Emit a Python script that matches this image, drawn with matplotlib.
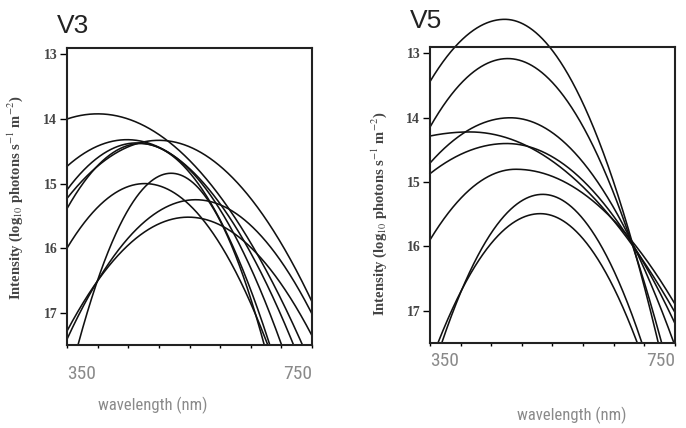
import numpy as np
import matplotlib
matplotlib.use("Agg")
import matplotlib.pyplot as plt

# fitted irradiance spectra, one parabola per station:
# peak wavelength (nm), peak level (log10 photons s-1 m-2),
# drop per (100 nm)^2 on the short and long wavelength side
v3_peak_nm = [400, 448, 500, 464, 470, 477, 520, 560, 548]
v3_peak_level = [13.92, 14.32, 14.33, 14.37, 14.38, 15.00, 14.84, 15.25, 15.52]
v3_curv_short = [0.32, 0.43, 0.40, 0.56, 0.70, 0.62, 1.15, 0.49, 0.45]
v3_curv_long = [0.32, 0.43, 0.40, 0.56, 0.70, 0.62, 1.15, 0.49, 0.45]

v5_peak_nm = [472, 477, 481, 415, 475, 490, 534, 530]
v5_peak_level = [12.47, 13.08, 14.00, 14.22, 14.40, 14.80, 15.19, 15.49]
v5_curv_short = [0.65, 0.66, 0.41, 0.15, 0.30, 0.56, 0.85, 0.72]
v5_curv_long = [0.80, 0.70, 0.49, 0.25, 0.37, 0.31, 0.88, 0.80]

wl_min, wl_max = 350, 750
wl_ticks = [350, 400, 450, 500, 550, 600, 650, 700, 750]
level_ticks = [13, 14, 15, 16, 17]
level_top, level_bottom = 12.9, 17.5

plt.rcParams["mathtext.fontset"] = "stix"

fig = plt.figure(figsize=(6.86, 4.28), dpi=100)

panels = [
    dict(name="V3", peaks=v3_peak_nm, levels=v3_peak_level,
         k_short=v3_curv_short, k_long=v3_curv_long,
         rect=[67 / 686, 1 - 345 / 428, 245 / 686, 297 / 428],
         title_xy=(57 / 686, 1 - 33 / 428), ylab_xy=(15 / 686, 1 - 198 / 428),
         xlab_xy=(153 / 686, 1 - 405 / 428), xpad=12),
    dict(name="V5", peaks=v5_peak_nm, levels=v5_peak_level,
         k_short=v5_curv_short, k_long=v5_curv_long,
         rect=[430 / 686, 1 - 343 / 428, 245 / 686, 296 / 428],
         title_xy=(410 / 686, 1 - 28 / 428), ylab_xy=(379 / 686, 1 - 214 / 428),
         xlab_xy=(572 / 686, 1 - 415 / 428), xpad=4),
]

gray = "#8a8a8a"
narrow = dict(family=["Roboto Condensed", "Roboto", "DejaVu Sans"],
              fontstretch="condensed", color=gray)

for p in panels:
    ax = fig.add_axes(p["rect"])
    wl = np.linspace(wl_min, wl_max, 2001)
    for pk, lv, ks, kl in zip(p["peaks"], p["levels"], p["k_short"], p["k_long"]):
        k = np.where(wl < pk, ks, kl)
        y = lv + k * ((wl - pk) / 100.0) ** 2
        y[y > level_bottom] = np.nan
        ax.plot(wl, y, color="#111111", lw=1.15, clip_on=False)

    ax.set_xlim(wl_min, wl_max)
    ax.set_ylim(level_bottom, level_top)
    for s in ax.spines.values():
        s.set_linewidth(1.5)
        s.set_color("#222222")

    ax.set_yticks(level_ticks)
    ax.set_yticklabels([str(t) for t in level_ticks], family="Liberation Serif",
                       fontweight="bold", fontsize=10, color="#444444")
    ax.tick_params(axis="y", direction="out", length=5, width=1, pad=2)

    ax.set_xticks(wl_ticks)
    labels = [str(t) if t in (wl_min, wl_max) else "" for t in wl_ticks]
    ax.set_xticklabels(labels, fontsize=14, **narrow)
    ax.tick_params(axis="x", direction="out", length=2.5, width=1, pad=p["xpad"])
    tl = ax.get_xticklabels()
    tl[0].set_ha("left")
    tl[-1].set_ha("right")

    fig.text(*p["title_xy"], p["name"], fontsize=19, family="Liberation Sans",
             va="baseline", ha="left", color="#222222")
    fig.text(*p["ylab_xy"], r"Intensity (log$_{10}$ photons s$^{-1}$ m$^{-2}$)",
             rotation=90, ha="center", va="center", fontsize=10.5,
             family="Liberation Serif", fontweight="bold", color="#444444")
    fig.text(*p["xlab_xy"], "wavelength (nm)", ha="center", va="center",
             fontsize=12, **narrow)

fig.savefig("out.png", dpi=100)
